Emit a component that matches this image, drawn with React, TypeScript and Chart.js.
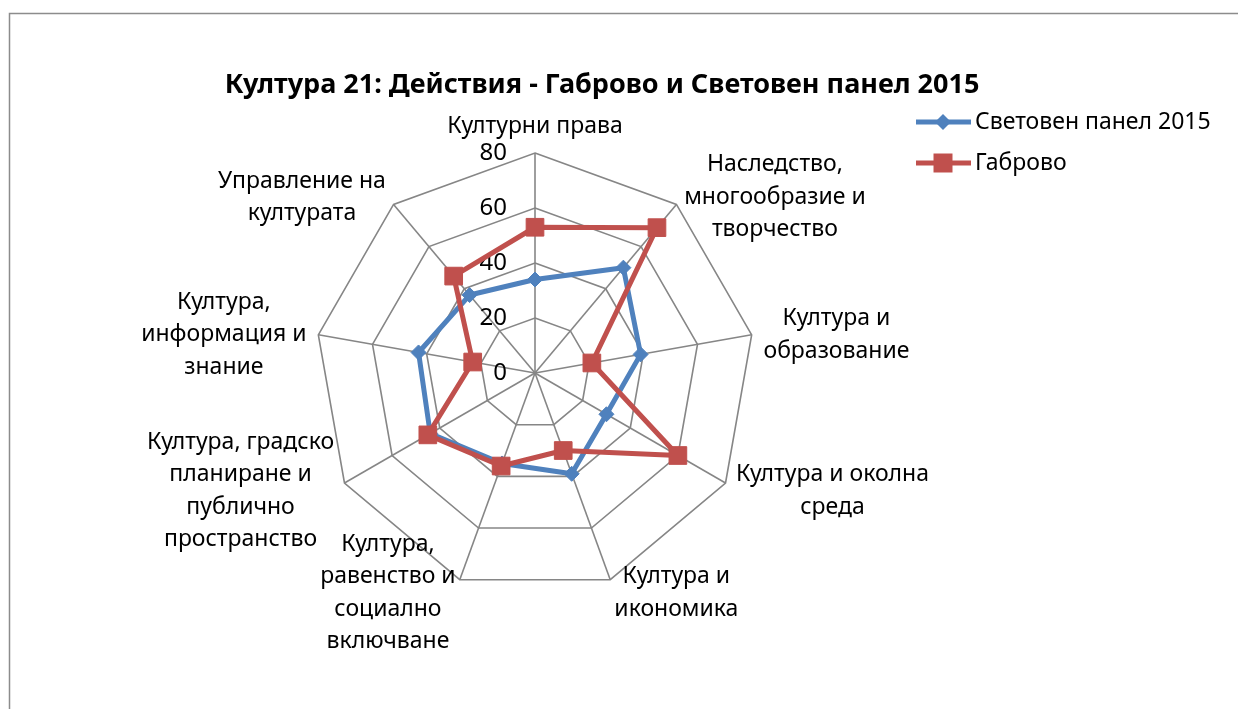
import { useEffect, useRef } from "react";
import { Chart, registerables } from "chart.js";

Chart.register(...registerables);

const chartTitle = "Култура 21: Действия - Габрово и Световен панел 2015";
const categories: string[][] = [
  ["Културни права"],
  ["Наследство,", "многообразие и", "творчество"],
  ["Култура и", "образование"],
  ["Култура и околна", "среда"],
  ["Култура и", "икономика"],
  ["Култура,", "равенство и", "социално", "включване"],
  ["Култура, градско", "планиране и", "публично", "пространство"],
  ["Култура,", "информация и", "знание"],
  ["Управление на", "културата"],
];
const seriesNames = ["Световен панел 2015", "Габрово"];
const worldPanel = [34, 50, 39, 30, 39, 35, 44, 43, 37];
const gabrovo = [53, 69, 21, 60, 30, 36, 45, 23, 46];
const axisMin = 0;
const axisMax = 80;
const axisStep = 20;

const BLUE = "#4F81BD";
const RED = "#C0504D";
const FONT = "'Noto Sans', 'DejaVu Sans', sans-serif";
const TEXT_SIZE = 23;
const LINE_H = 32.5;

const excelText = {
  id: "excelText",
  beforeDraw(chart: any) {
    const ctx = chart.ctx;
    ctx.save();
    ctx.strokeStyle = "#8c8c8c";
    ctx.lineWidth = 1.5;
    ctx.strokeRect(9.5, 13.5, chart.width + 100, chart.height + 100);
    ctx.restore();
  },
  beforeDatasetsDraw(chart: any) {
    const ctx = chart.ctx;
    const scale = chart.scales.r;
    ctx.save();
    ctx.fillStyle = "#000";
    ctx.font = `24px ${FONT}`;
    ctx.textAlign = "right";
    ctx.textBaseline = "middle";
    for (const t of scale.ticks) {
      const d = scale.getDistanceFromCenterForValue(t.value);
      ctx.fillText(String(t.value), scale.xCenter - 28, scale.yCenter - d);
    }
    ctx.font = `${TEXT_SIZE}px ${FONT}`;
    ctx.textAlign = "center";
    const labels = chart.data.labels as string[][];
    labels.forEach((lines, i) => {
      const pos = scale.getPointPosition(i, scale.drawingArea + 12);
      const blockW = Math.max(...lines.map((l) => ctx.measureText(l).width));
      const dx = pos.x - scale.xCenter;
      if (Math.abs(dx) < 1 && pos.y < scale.yCenter) {
        lines.forEach((l, k) => {
          const y = pos.y - 15 - (lines.length - 1 - k) * LINE_H;
          ctx.fillText(l, pos.x, y);
        });
        return;
      }
      const cx = dx > 0 ? pos.x + blockW / 2 : pos.x - blockW / 2;
      const y0 = pos.y + 2 - ((lines.length - 1) / 2) * LINE_H;
      lines.forEach((l, k) => ctx.fillText(l, cx, y0 + k * LINE_H));
    });
    ctx.restore();
  },
  afterDraw(chart: any) {
    const ctx = chart.ctx;
    ctx.save();
    ctx.fillStyle = "#000";
    ctx.font = `bold 27px ${FONT}`;
    ctx.textAlign = "center";
    ctx.textBaseline = "middle";
    ctx.fillText(chartTitle, 602, 85);

    ctx.font = `${TEXT_SIZE}px ${FONT}`;
    ctx.textAlign = "left";
    chart.data.datasets.forEach((ds: any, i: number) => {
      const y = 122 + i * 41;
      ctx.strokeStyle = ds.borderColor;
      ctx.lineWidth = 5;
      ctx.beginPath();
      ctx.moveTo(916, y);
      ctx.lineTo(971, y);
      ctx.stroke();
      ctx.fillStyle = ds.backgroundColor;
      ctx.beginPath();
      if (ds.pointStyle === "rectRot") {
        const r = 8;
        ctx.moveTo(943, y - r);
        ctx.lineTo(943 + r, y);
        ctx.lineTo(943, y + r);
        ctx.lineTo(943 - r, y);
        ctx.closePath();
      } else {
        ctx.rect(943 - 9.5, y - 9.5, 19, 19);
      }
      ctx.fill();
      ctx.fillStyle = "#000";
      ctx.fillText(ds.label, 975, y);
    });
    ctx.restore();
  },
};

export default function App() {
  const ref = useRef<HTMLCanvasElement | null>(null);
  useEffect(() => {
    if (!ref.current) return;
    const chart = new Chart(ref.current, {
      type: "radar",
      data: {
        labels: categories,
        datasets: [
          {
            label: seriesNames[0],
            data: worldPanel,
            borderColor: BLUE,
            backgroundColor: BLUE,
            borderWidth: 5,
            borderJoinStyle: "round",
            pointStyle: "rectRot",
            pointRadius: 7.5,
            pointBorderWidth: 1,
            pointBackgroundColor: BLUE,
            pointBorderColor: BLUE,
            fill: false,
            order: 1,
          },
          {
            label: seriesNames[1],
            data: gabrovo,
            borderColor: RED,
            backgroundColor: RED,
            borderWidth: 5,
            borderJoinStyle: "round",
            pointStyle: "rect",
            pointRadius: 12.5,
            pointBorderWidth: 1,
            pointBackgroundColor: RED,
            pointBorderColor: RED,
            fill: false,
            order: 0,
          },
        ] as any,
      },
      options: {
        responsive: false,
        animation: false,
        layout: { padding: { left: 315, right: 483, top: 153, bottom: 116 } },
        scales: {
          r: {
            min: axisMin,
            max: axisMax,
            ticks: { stepSize: axisStep, display: false },
            pointLabels: { display: false },
            grid: { color: "#868686", lineWidth: 1.6, circular: false },
            angleLines: { color: "#868686", lineWidth: 1.6 },
          },
        },
        plugins: {
          legend: { display: false },
          title: { display: false },
          tooltip: { enabled: false },
        },
      },
      plugins: [excelText],
    });
    return () => chart.destroy();
  }, []);
  return (
    <div style={{ position: "fixed", left: 0, top: 0, width: 1238, height: 709, background: "#fff" }}>
      <canvas ref={ref} width={1238} height={709} style={{ display: "block" }} />
    </div>
  );
}
